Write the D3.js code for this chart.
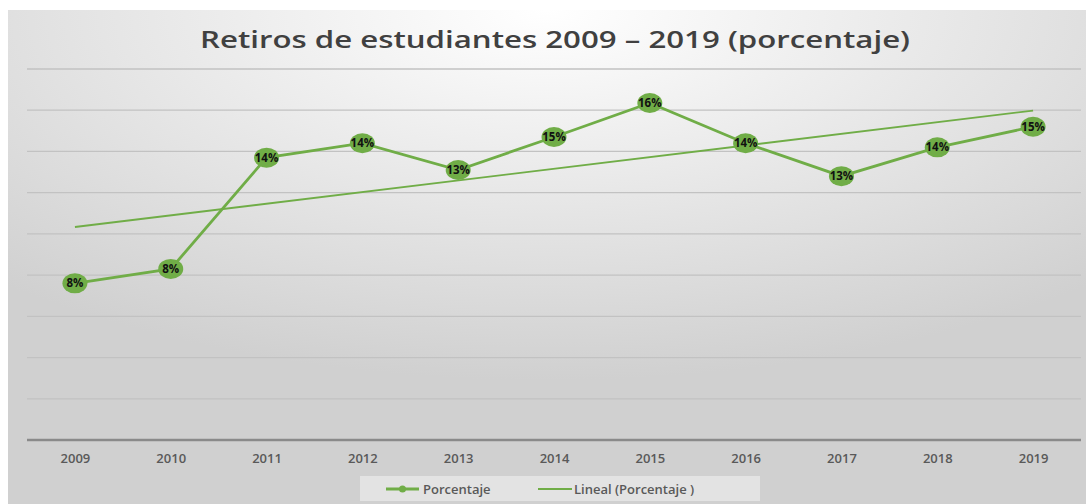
<!DOCTYPE html>
<html>
<head>
<meta charset="utf-8">
<script src="https://cdn.jsdelivr.net/npm/d3@7"></script>
<style>
  body { margin: 0; background: #fff; }
  svg { display: block; }
</style>
</head>
<body>
<div id="chart"></div>
<script>
// Data
const years = ["2009", "2010", "2011", "2012", "2013", "2014", "2015", "2016", "2017", "2018", "2019"];
const porcentaje = [0.076, 0.083, 0.137, 0.144, 0.131, 0.147, 0.1635, 0.144, 0.128, 0.142, 0.152];
const gridTicks = [0.02, 0.04, 0.06, 0.08, 0.10, 0.12, 0.14, 0.16, 0.18];
const title = "Retiros de estudiantes 2009 \u2013 2019 (porcentaje)";
const legendNames = ["Porcentaje", "Lineal (Porcentaje )"];

const width = 1086, height = 504;
const margin = { top: 69, right: 5, bottom: 64, left: 27 };
const green = "#70ad47";

const svg = d3.select("#chart").append("svg")
    .attr("width", width)
    .attr("height", height);

// Background gradient of the chart area
const defs = svg.append("defs");
const grad = defs.append("radialGradient")
    .attr("id", "bg")
    .attr("cx", "50%").attr("cy", "0%").attr("r", "75%")
    .attr("fx", "50%").attr("fy", "0%");
grad.append("stop").attr("offset", "0%").attr("stop-color", "#ffffff");
grad.append("stop").attr("offset", "100%").attr("stop-color", "#d0d0d0");

svg.append("rect")
    .attr("x", 8).attr("y", 10)
    .attr("width", width - 8).attr("height", height - 10)
    .attr("fill", "url(#bg)");

// Scales
const x = d3.scalePoint()
    .domain(years)
    .range([margin.left, width - margin.right])
    .padding(0.5);

const y = d3.scaleLinear()
    .domain([0, 0.18])
    .range([height - margin.bottom, margin.top]);

// Gridlines
svg.append("g")
    .selectAll("line")
    .data(gridTicks)
    .enter().append("line")
    .attr("x1", margin.left)
    .attr("x2", width - margin.right)
    .attr("y1", d => y(d))
    .attr("y2", d => y(d))
    .attr("stroke", "#c2c2c2")
    .attr("stroke-width", 1.3);

// X axis
const xAxis = svg.append("g")
    .attr("transform", `translate(0,${y(0)})`)
    .call(d3.axisBottom(x).tickSize(0).tickPadding(14));
xAxis.select(".domain")
    .attr("stroke", "#8a8a8a")
    .attr("stroke-width", 2.5)
    .attr("d", `M${margin.left},0H${width - margin.right}`);
xAxis.selectAll("text")
    .attr("fill", "#595959")
    .style("font-family", "'Open Sans', sans-serif")
    .style("font-weight", "600")
    .style("font-size", "13px");

// Linear trend line (least squares over the series)
const idx = years.map((d, i) => i);
const mx = d3.mean(idx), my = d3.mean(porcentaje);
const slope = d3.sum(idx, i => (i - mx) * (porcentaje[i] - my)) / d3.sum(idx, i => (i - mx) ** 2);
const intercept = my - slope * mx;
const trend = [0, years.length - 1].map(i => ({ year: years[i], v: intercept + slope * i }));

svg.append("path")
    .datum(trend)
    .attr("fill", "none")
    .attr("stroke", green)
    .attr("stroke-width", 1.8)
    .attr("d", d3.line().x(d => x(d.year)).y(d => y(d.v)));

// Series line
const series = years.map((yr, i) => ({ year: yr, v: porcentaje[i] }));
svg.append("path")
    .datum(series)
    .attr("fill", "none")
    .attr("stroke", green)
    .attr("stroke-width", 2.8)
    .attr("d", d3.line().x(d => x(d.year)).y(d => y(d.v)));

// Markers
svg.append("g")
    .selectAll("ellipse")
    .data(series)
    .enter().append("ellipse")
    .attr("cx", d => x(d.year))
    .attr("cy", d => y(d.v))
    .attr("rx", 12.5)
    .attr("ry", 10)
    .attr("fill", green);

// Data labels
svg.append("g")
    .selectAll("text")
    .data(series)
    .enter().append("text")
    .attr("x", d => x(d.year))
    .attr("y", d => y(d.v) + 4)
    .attr("text-anchor", "middle")
    .attr("fill", "#111")
    .style("font-family", "'Open Sans', sans-serif")
    .style("font-weight", "bold")
    .style("font-size", "11.5px")
    .text(d => d3.format(".0%")(d.v));

// Title
svg.append("text")
    .attr("x", 555)
    .attr("y", 48)
    .attr("text-anchor", "middle")
    .attr("fill", "#404040")
    .attr("textLength", 710)
    .attr("lengthAdjust", "spacingAndGlyphs")
    .style("font-family", "'Open Sans', sans-serif")
    .style("font-weight", "600")
    .style("font-size", "23px")
    .text(title);

// Legend
const legend = svg.append("g");
legend.append("rect")
    .attr("x", 360).attr("y", 476)
    .attr("width", 400).attr("height", 25)
    .attr("fill", "#e3e3e3");

const leg1 = legend.append("g").attr("transform", "translate(386,489)");
leg1.append("line").attr("x1", 0).attr("x2", 33)
    .attr("stroke", green).attr("stroke-width", 2.8);
leg1.append("circle").attr("cx", 16.5).attr("r", 3.5).attr("fill", green);
leg1.append("text").attr("x", 37).attr("y", 5)
    .attr("fill", "#595959")
    .style("font-family", "'Open Sans', sans-serif")
    .style("font-weight", "600")
    .style("font-size", "13px")
    .text(legendNames[0]);

const leg2 = legend.append("g").attr("transform", "translate(538,489)");
leg2.append("line").attr("x1", 0).attr("x2", 34)
    .attr("stroke", green).attr("stroke-width", 1.8);
leg2.append("text").attr("x", 36).attr("y", 5)
    .attr("fill", "#595959")
    .style("font-family", "'Open Sans', sans-serif")
    .style("font-weight", "600")
    .style("font-size", "13px")
    .text(legendNames[1]);
</script>
</body>
</html>
